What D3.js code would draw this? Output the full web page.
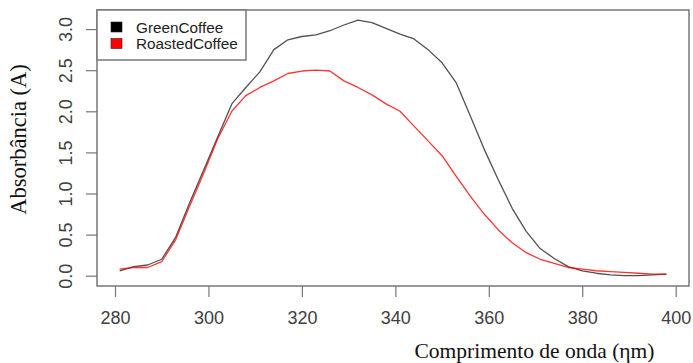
<!DOCTYPE html>
<html>
<head>
<meta charset="utf-8">
<script src="https://cdn.jsdelivr.net/npm/d3@7"></script>
<style>
  html, body { margin: 0; padding: 0; background: #fff; }
  svg { display: block; }
</style>
</head>
<body>
<svg id="chart" width="693" height="363"></svg>
<script>
// Wavelength samples (nm)
const wavelengths = [281, 284, 287, 290, 293, 296, 299, 302, 305, 308, 311, 314, 317, 320, 323, 326, 329, 332, 335, 338,
                     341, 344, 347, 350, 353, 356, 359, 362, 365, 368, 371, 374, 377, 380, 383, 386, 389, 392, 395, 398];

// Absorbance of green coffee extract
const greenCoffee = [0.06, 0.11, 0.13, 0.20, 0.47, 0.89, 1.29, 1.69, 2.09, 2.29, 2.48, 2.75, 2.87, 2.91, 2.93, 2.98, 3.05, 3.11, 3.08, 3.01,
                     2.94, 2.88, 2.75, 2.59, 2.35, 1.95, 1.54, 1.17, 0.82, 0.54, 0.33, 0.21, 0.11, 0.06, 0.03, 0.01, 0.00, 0.00, 0.01, 0.02];

// Absorbance of roasted coffee extract
const roastedCoffee = [0.08, 0.10, 0.10, 0.17, 0.44, 0.85, 1.25, 1.67, 2.00, 2.19, 2.29, 2.37, 2.46, 2.49, 2.50, 2.49, 2.37, 2.29, 2.20, 2.09,
                       2.00, 1.82, 1.64, 1.46, 1.21, 0.97, 0.75, 0.56, 0.40, 0.28, 0.20, 0.15, 0.10, 0.08, 0.06, 0.05, 0.04, 0.03, 0.02, 0.02];

const xTicks = [280, 300, 320, 340, 360, 380, 400];
const yTicks = [0.0, 0.5, 1.0, 1.5, 2.0, 2.5, 3.0];

const seriesNames = ["GreenCoffee", "RoastedCoffee"];
const seriesColors = ["#333333", "#ff0000"];
const legendFills = ["#000000", "#ff0000"];

const svg = d3.select("#chart");

// Plot frame
const box = { left: 97, top: 10, right: 689, bottom: 286 };

const x = d3.scaleLinear().domain([280, 400]).range([115, 675.7]);
const y = d3.scaleLinear().domain([0, 3]).range([275.7, 29.1]);

const frameColor = "#777";
const labelColor = "#404040";

// Y axis ticks and labels (rotated, base-graphics style)
const yAxis = d3.axisLeft(y).tickValues(yTicks).tickSize(11).tickFormat(d3.format(".1f"));
const gy = svg.append("g").attr("transform", `translate(${box.left},0)`).call(yAxis);
gy.select(".domain").remove();
gy.selectAll(".tick line").attr("stroke", frameColor).attr("stroke-width", 1.2);
gy.selectAll(".tick text")
  .attr("fill", labelColor)
  .attr("font-family", "'Liberation Sans', Arial, sans-serif")
  .attr("font-size", 18)
  .attr("x", null).attr("dy", null)
  .attr("text-anchor", "middle")
  .attr("transform", "translate(-25,0) rotate(-90)");

// X axis ticks and labels
const xAxis = d3.axisBottom(x).tickValues(xTicks).tickSize(11).tickFormat(d3.format("d"));
const gx = svg.append("g").attr("transform", `translate(0,${box.bottom})`).call(xAxis);
gx.select(".domain").remove();
gx.selectAll(".tick line").attr("stroke", frameColor).attr("stroke-width", 1.2);
gx.selectAll(".tick text")
  .attr("fill", labelColor)
  .attr("font-family", "'Liberation Sans', Arial, sans-serif")
  .attr("font-size", 18)
  .attr("y", 38).attr("dy", null);

// Curves
const line = d3.line()
  .x((d, i) => x(wavelengths[i]))
  .y(d => y(d));

[greenCoffee, roastedCoffee].forEach((vals, k) => {
  svg.append("path")
    .datum(vals)
    .attr("fill", "none")
    .attr("stroke", seriesColors[k])
    .attr("stroke-opacity", k === 0 ? 0.85 : 0.8)
    .attr("stroke-width", 1.3)
    .attr("stroke-linejoin", "round")
    .attr("d", line);
});

// Plot box
svg.append("rect")
  .attr("x", box.left).attr("y", box.top)
  .attr("width", box.right - box.left).attr("height", box.bottom - box.top)
  .attr("fill", "none").attr("stroke", frameColor).attr("stroke-width", 1.5);

// Legend
const lg = svg.append("g");
lg.append("rect")
  .attr("x", box.left).attr("y", box.top)
  .attr("width", 149).attr("height", 50)
  .attr("fill", "#fff").attr("stroke", frameColor).attr("stroke-width", 1.5);
seriesNames.forEach((name, i) => {
  lg.append("rect")
    .attr("x", 111).attr("y", 22 + i * 16.5)
    .attr("width", 11).attr("height", 10)
    .attr("fill", legendFills[i])
    .attr("stroke", "#222").attr("stroke-width", 0.6);
  lg.append("text")
    .attr("x", 136).attr("y", 32.5 + i * 16.5)
    .attr("fill", "#222")
    .attr("font-family", "'Liberation Sans', Arial, sans-serif")
    .attr("font-size", 15.3)
    .text(name);
});

// Axis titles
svg.append("text")
  .attr("transform", "translate(26,139.5) rotate(-90)")
  .attr("text-anchor", "middle")
  .attr("fill", "#111")
  .attr("font-family", "'Liberation Serif', 'Times New Roman', serif")
  .attr("font-size", 22.5)
  .text("Absorbância (A)");

svg.append("text")
  .attr("x", 534.5).attr("y", 358)
  .attr("text-anchor", "middle")
  .attr("fill", "#111")
  .attr("font-family", "'Liberation Serif', 'Times New Roman', serif")
  .attr("font-size", 21.5)
  .text("Comprimento de onda (ηm)");
</script>
</body>
</html>
